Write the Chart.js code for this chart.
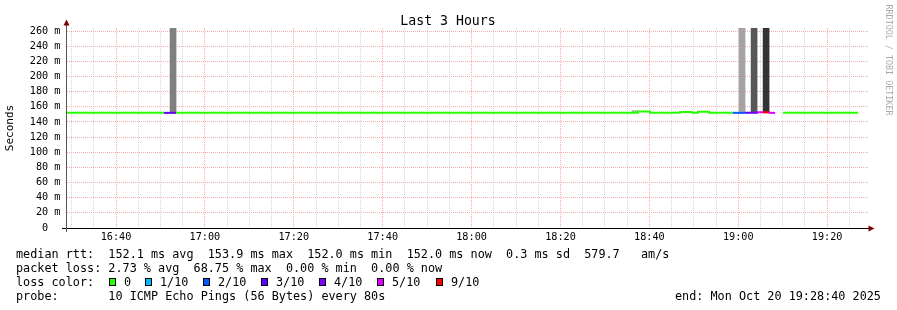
<!DOCTYPE html>
<html><head><meta charset="utf-8">
<script src="https://cdn.jsdelivr.net/npm/chart.js@4.4.1/dist/chart.umd.min.js"></script>
<style>html,body{margin:0;padding:0;background:#fff;}#wrap{position:relative;width:897px;height:310px;}canvas{display:block;}</style>
</head><body><div id="wrap"><canvas id="c" width="897" height="310"></canvas></div>
<script>
// ---------------- data ----------------
const titleText = 'Last 3 Hours';
const yAxisTitle = 'Seconds';
const watermark = 'RRDTOOL / TOBI OETIKER';
const xTickLabels = ['16:40','17:00','17:20','17:40','18:00','18:20','18:40','19:00','19:20'];
const yTickValues = [0,20,40,60,80,100,120,140,160,180,200,220,240,260];
const axisStart = '16:28:58';
const axisEnd = '19:29:12';
const yMaxMs = 264;

// median rtt, stepwise: each step holds from its start to the next start
const stepStart = ['16:28:58','16:50:48','16:53:30','18:37:27','18:40:10','18:46:54','18:49:32','18:50:56','18:53:24','18:58:45','19:01:30','19:04:12','19:05:36','19:06:54','19:08:18','19:10:06'];
const stepEnd = '19:26:58';
const medianMs = [152.0,152.0,152.0,153.9,152.0,153.2,152.0,153.3,152.0,152.0,152.0,152.9,152.8,152.0,null,152.0];
const lossTenths = [0,3,0,0,0,0,0,0,0,2,3,5,9,5,0,0];

// smoke (spread of the pings)
const smokeTime = ['16:52:50','18:36:47','19:00:52','19:03:34','19:06:16'];
const smokeLowMs = [152,152,152,152,152];
const smokeHighMs = [270,155,270,270,270];

// legend
const statsLines = [
  'median rtt:  152.1 ms avg  153.9 ms max  152.0 ms min  152.0 ms now  0.3 ms sd  579.7   am/s',
  'packet loss: 2.73 % avg  68.75 % max  0.00 % min  0.00 % now'
];
const lossLegendLabel = ['0','1/10','2/10','3/10','4/10','5/10','9/10'];
const lossLegendTenths = [0,1,2,3,4,5,9];
const lossLine = 'loss color:';
const probeLine = 'probe:       10 ICMP Echo Pings (56 Bytes) every 80s';
const endLine = 'end: Mon Oct 20 19:28:40 2025';

// ---------------- styles ----------------
const lossColors = {0:'#26ff00',1:'#00b8ff',2:'#0059ff',3:'#5e00ff',4:'#7e00ff',5:'#dd00ff',9:'#ff0000'};
const smokeShades = ['#808080','#b4b4b4','#a4a4a4','#575757','#333333'];
const MONO = '"DejaVu Sans Mono", monospace';
const RED_GRID = 'rgb(246,172,172)';
const GRAY_GRID = 'rgb(214,214,214)';
const legendBoxX = [109,145,203,261,319,377,436];

// ---------------- build ----------------
const toMin = s => { const p = s.split(':').map(Number); return p[0]*60 + p[1] + (p[2]||0)/60; };
const fmt = v => { const h = Math.floor(v/60), m = Math.round(v - h*60); return String(h).padStart(2,'0') + ':' + String(m).padStart(2,'0'); };

const linePts = [], lineLoss = [];
for (let i = 0; i < stepStart.length; i++) {
  const s = toMin(stepStart[i]);
  const e = i + 1 < stepStart.length ? toMin(stepStart[i+1]) : toMin(stepEnd);
  linePts.push({x: s, y: medianMs[i]}, {x: e, y: medianMs[i]});
  lineLoss.push(lossTenths[i], lossTenths[i]);
}
const smokeData = smokeTime.map((t, i) => ({x: toMin(t), y: [smokeLowMs[i], smokeHighMs[i]]}));

const extras = {
  id: 'extras',
  afterDraw(chart) {
    const c = chart.ctx;
    c.save();
    // axes
    c.fillStyle = '#000';
    c.fillRect(62, 228, 808, 1);
    c.fillStyle = '#555';
    c.fillRect(66, 23, 1, 209);
    // arrows
    c.fillStyle = '#7f0000';
    c.beginPath(); c.moveTo(66.5, 19.5); c.lineTo(69.5, 25.5); c.lineTo(63.5, 25.5); c.closePath(); c.fill();
    c.beginPath(); c.moveTo(874.5, 228.5); c.lineTo(868.5, 225.5); c.lineTo(868.5, 231.5); c.closePath(); c.fill();
    // title
    c.fillStyle = '#000';
    c.font = '13.2px ' + MONO;
    c.textAlign = 'center'; c.textBaseline = 'alphabetic';
    c.fillText(titleText, 448, 25);
    // watermark
    c.save();
    c.translate(888, 60); c.rotate(Math.PI/2);
    c.fillStyle = '#aaaaaa'; c.font = '8.4px ' + MONO;
    c.textAlign = 'center'; c.textBaseline = 'middle';
    c.fillText(watermark, 0, 0);
    c.restore();
    // legend
    c.fillStyle = '#000';
    c.font = '11.8px ' + MONO;
    c.textAlign = 'left'; c.textBaseline = 'alphabetic';
    c.fillText(statsLines[0], 16, 258);
    c.fillText(statsLines[1], 16, 272);
    c.fillText(lossLine, 16, 286);
    c.fillText(probeLine, 16, 300);
    c.fillText(endLine, 675, 300);
    lossLegendLabel.forEach((lab, i) => {
      const bx = legendBoxX[i];
      c.fillStyle = '#000'; c.fillRect(bx, 278, 7, 8);
      c.fillStyle = lossColors[lossLegendTenths[i]]; c.fillRect(bx+1, 279, 5, 6);
      c.fillStyle = '#000';
      c.fillText(lab, bx + 15, 286);
    });
    c.restore();
  }
};

new Chart(document.getElementById('c'), {
  type: 'bar',
  data: {
    datasets: [
      {
        type: 'line', data: linePts, order: 0, borderWidth: 2, pointRadius: 0,
        borderColor: lossColors[0], spanGaps: false, tension: 0,
        borderCapStyle: 'butt', borderJoinStyle: 'miter', clip: 2,
        segment: { borderColor: ctx => lossColors[lineLoss[ctx.p0DataIndex]] }
      },
      {
        type: 'bar', data: smokeData, order: 1, backgroundColor: smokeShades,
        barThickness: 6, borderWidth: 0, clip: 0, grouped: false
      }
    ]
  },
  options: {
    responsive: false, animation: false, devicePixelRatio: 1, events: [],
    layout: { padding: { left: 0, right: 29, top: 28, bottom: 0 } },
    plugins: { legend: { display: false }, tooltip: { enabled: false }, title: { display: false } },
    scales: {
      x: {
        type: 'linear', min: toMin(axisStart), max: toMin(axisEnd), offset: false,
        afterBuildTicks: s => { const t = []; for (let v = 990; v <= 1165; v += 5) t.push({value: v}); s.ticks = t; },
        ticks: {
          autoSkip: false, maxRotation: 0, minRotation: 0, padding: 3, color: '#000',
          font: { family: MONO, size: 10.2 },
          callback: v => { const s = fmt(v); return xTickLabels.includes(s) ? s : ''; }
        },
        grid: { color: ctx => (ctx.tick && ctx.tick.value % 20 === 0) ? RED_GRID : GRAY_GRID, lineWidth: 1, drawTicks: false, offset: false },
        border: { display: false, dash: [1, 1] },
        afterFit: s => { s.height = 82; }
      },
      y: {
        min: 0, max: yMaxMs,
        afterBuildTicks: s => { const t = []; for (let v = 0; v <= 260; v += 10) t.push({value: v}); s.ticks = t; },
        ticks: {
          padding: 6.5, color: '#000', font: { family: MONO, size: 10.2 },
          callback: v => yTickValues.includes(v) ? (v === 0 ? '0  ' : v + ' m') : ''
        },
        grid: { color: ctx => (ctx.tick && ctx.tick.value % 20 === 0) ? RED_GRID : GRAY_GRID, lineWidth: 1, drawTicks: false },
        border: { display: false, dash: [1, 1] },
        title: { display: true, text: yAxisTitle, color: '#000', font: { family: MONO, size: 11 }, padding: { top: 4, bottom: 0 } },
        afterFit: s => { s.width = 67; }
      }
    }
  },
  plugins: [extras]
});
</script>
</body></html>
